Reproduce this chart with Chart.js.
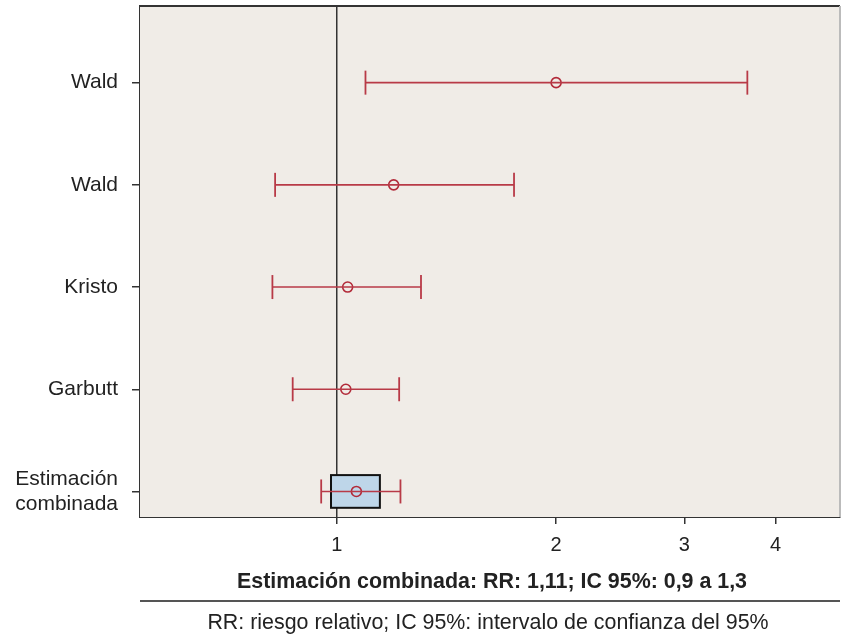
<!DOCTYPE html>
<html>
<head>
<meta charset="utf-8">
<script src="https://cdn.jsdelivr.net/npm/chart.js@4.4.1/dist/chart.umd.min.js"></script>
<style>
 html, body { margin: 0; padding: 0; background: #fff; }
 #wrap { width: 841px; height: 635px; position: relative; }
</style>
</head>
<body>
<div id="wrap"><canvas id="forest"></canvas></div>
<script>
// Estudios (de arriba a abajo)
const studyLabels = ['Wald', 'Wald', 'Kristo', 'Garbutt', ['Estimación', 'combinada']];
const rowPositions = [5, 4, 3, 2, 1];
const riskRatios = [2.0, 1.197, 1.035, 1.029, 1.064];
const lowerCI = [1.095, 0.823, 0.816, 0.870, 0.952];
const upperCI = [3.66, 1.751, 1.305, 1.218, 1.223];
// Caja de la estimación combinada
const pooledBoxX = [0.982, 1.146];
const pooledBoxY = [0.84, 1.16];
const xTickValues = [1, 2, 3, 4];
const summaryText = 'Estimación combinada: RR: 1,11; IC 95%: 0,9 a 1,3';
const footnoteText = 'RR: riesgo relativo; IC 95%: intervalo de confianza del 95%';

const RED = '#b83a47';
const FONT = '"Liberation Sans", Arial, sans-serif';

const datasets = [];
rowPositions.forEach((r, i) => {
 datasets.push({
  type: 'line',
  data: [{ x: lowerCI[i], y: r }, { x: upperCI[i], y: r }],
  borderColor: RED,
  borderWidth: 1.6,
  pointStyle: 'line',
  rotation: 90,
  pointRadius: 12,
  pointBorderWidth: 1.8,
  pointBorderColor: RED,
  fill: false
 });
});
datasets.push({
 type: 'scatter',
 data: rowPositions.map((r, i) => ({ x: riskRatios[i], y: r })),
 pointStyle: 'circle',
 pointRadius: 5,
 pointBorderWidth: 1.6,
 pointBorderColor: '#b22a39',
 pointBackgroundColor: 'rgba(0,0,0,0)'
});

const backdrop = {
 id: 'backdrop',
 beforeDatasetsDraw(chart) {
  const { ctx, chartArea: a, scales: { x, y } } = chart;
  ctx.save();
  ctx.fillStyle = '#f0ece7';
  ctx.fillRect(a.left, a.top, a.right - a.left, a.bottom - a.top);
  // línea de no efecto (RR = 1)
  ctx.strokeStyle = '#333';
  ctx.lineWidth = 1.5;
  const x1 = x.getPixelForValue(1);
  ctx.beginPath(); ctx.moveTo(x1, a.top); ctx.lineTo(x1, a.bottom); ctx.stroke();
  // caja combinada
  const bx0 = x.getPixelForValue(pooledBoxX[0]), bx1 = x.getPixelForValue(pooledBoxX[1]);
  const by0 = y.getPixelForValue(pooledBoxY[1]), by1 = y.getPixelForValue(pooledBoxY[0]);
  ctx.fillStyle = '#bed6e9';
  ctx.fillRect(bx0, by0, bx1 - bx0, by1 - by0);
  ctx.strokeStyle = '#111';
  ctx.lineWidth = 2;
  ctx.strokeRect(bx0, by0, bx1 - bx0, by1 - by0);
  // bordes superior y derecho
  ctx.strokeStyle = '#333';
  ctx.beginPath(); ctx.moveTo(a.left, a.top); ctx.lineTo(a.right, a.top); ctx.stroke();
  ctx.strokeStyle = '#bbb';
  ctx.beginPath(); ctx.moveTo(a.right, a.top); ctx.lineTo(a.right, a.bottom); ctx.stroke();
  ctx.restore();
 },
 afterDraw(chart) {
  const { ctx, chartArea: a } = chart;
  const cx = (a.left + a.right) / 2;
  ctx.save();
  ctx.fillStyle = '#222';
  ctx.textAlign = 'center';
  ctx.textBaseline = 'middle';
  ctx.font = 'bold 21.4px ' + FONT;
  ctx.fillText(summaryText, cx + 2, 582);
  ctx.strokeStyle = '#555';
  ctx.lineWidth = 2;
  ctx.beginPath(); ctx.moveTo(a.left, 601); ctx.lineTo(a.right, 601); ctx.stroke();
  ctx.font = '21.4px ' + FONT;
  ctx.fillText(footnoteText, cx - 2, 623);
  ctx.restore();
 }
};

new Chart(document.getElementById('forest'), {
 type: 'scatter',
 data: { datasets },
 plugins: [backdrop],
 options: {
  responsive: true,
  maintainAspectRatio: false,
  animation: false,
  layout: { autoPadding: false, padding: { top: 6, right: 1, left: 0, bottom: 0 } },
  plugins: { legend: { display: false }, tooltip: { enabled: false } },
  scales: {
   x: {
    type: 'logarithmic',
    min: 0.537,
    max: 4.905,
    afterBuildTicks: (s) => { s.ticks = xTickValues.map(v => ({ value: v })); },
    afterFit: (s) => { s.height = 118; s.paddingLeft = 0; s.paddingRight = 0; },
    ticks: { color: '#222', font: { family: FONT, size: 20 }, padding: 9, maxRotation: 0, autoSkip: false,
     callback: (v) => String(v) },
    grid: { drawOnChartArea: false, tickLength: 7, color: '#333', lineWidth: 1.5 },
    border: { display: true, color: '#333', width: 2 }
   },
   y: {
    min: 0.75,
    max: 5.75,
    afterBuildTicks: (s) => { s.ticks = rowPositions.slice().sort((a, b) => a - b).map(v => ({ value: v })); },
    afterFit: (s) => { s.width = 140; s.paddingTop = 0; s.paddingBottom = 0; },
    ticks: { color: '#222', font: { family: FONT, size: 21, lineHeight: 1.2 }, padding: 14, autoSkip: false,
     callback: (v) => studyLabels[rowPositions.indexOf(v)] },
    grid: { drawOnChartArea: false, tickLength: 8, color: '#333', lineWidth: 1.5 },
    border: { display: true, color: '#333', width: 2 }
   }
  }
 }
});
</script>
</body>
</html>
